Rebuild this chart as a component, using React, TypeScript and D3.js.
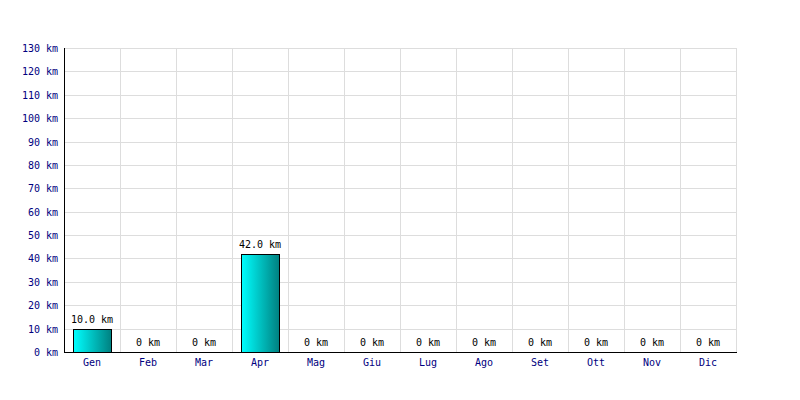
import React, { useEffect, useRef } from "react";
import * as d3 from "d3";

const months = ["Gen", "Feb", "Mar", "Apr", "Mag", "Giu", "Lug", "Ago", "Set", "Ott", "Nov", "Dic"];
const distances = [10, 0, 0, 42, 0, 0, 0, 0, 0, 0, 0, 0];
const yTicks = d3.range(0, 140, 10);

const App: React.FC = () => {
  const svgRef = useRef<SVGSVGElement>(null);

  useEffect(() => {
    if (!svgRef.current) return;
    d3.select(svgRef.current).selectAll("*").remove();

    const margin = { top: 48, right: 64, bottom: 48, left: 64 };
    const width = 800 - margin.left - margin.right;
    const height = 400 - margin.top - margin.bottom;
    const font = "'DejaVu Sans Mono', monospace";

    const root = d3.select(svgRef.current);

    const defs = root.append("defs");
    const grad = defs
      .append("linearGradient")
      .attr("id", "barGrad")
      .attr("x1", "0%")
      .attr("x2", "100%")
      .attr("y1", "0%")
      .attr("y2", "0%");
    grad.append("stop").attr("offset", "0%").attr("stop-color", "#00ffff");
    grad.append("stop").attr("offset", "100%").attr("stop-color", "#008080");

    const svg = root.append("g").attr("transform", `translate(${margin.left},${margin.top})`);

    const x = d3.scaleBand().domain(months).range([0, width]).paddingInner(0).paddingOuter(0);
    const y = d3.scaleLinear().domain([0, 130]).range([height, 0]);

    // Horizontal grid
    svg
      .selectAll("line.hgrid")
      .data(yTicks)
      .enter()
      .append("line")
      .attr("x1", 0)
      .attr("x2", width)
      .attr("y1", (d) => Math.round(y(d)) + 0.5)
      .attr("y2", (d) => Math.round(y(d)) + 0.5)
      .attr("stroke", "#dddddd");

    // Vertical grid
    const bounds = months.map((m) => x(m) || 0).concat([width]);
    svg
      .selectAll("line.vgrid")
      .data(bounds)
      .enter()
      .append("line")
      .attr("x1", (d) => Math.round(d) + 0.5)
      .attr("x2", (d) => Math.round(d) + 0.5)
      .attr("y1", 0)
      .attr("y2", height)
      .attr("stroke", "#dddddd");

    // Bars
    const barW = 38;
    svg
      .selectAll("rect.bar")
      .data(distances.map((v, i) => ({ m: months[i], v })).filter((d) => d.v > 0))
      .enter()
      .append("rect")
      .attr("x", (d) => Math.round((x(d.m) || 0) + x.bandwidth() / 2 - barW / 2) + 0.5)
      .attr("y", (d) => Math.round(y(d.v)) + 0.5)
      .attr("width", barW)
      .attr("height", (d) => height - Math.round(y(d.v)))
      .attr("fill", "url(#barGrad)")
      .attr("stroke", "#000")
      .attr("stroke-width", 1);

    // Value labels
    svg
      .selectAll("text.val")
      .data(distances.map((v, i) => ({ m: months[i], v })))
      .enter()
      .append("text")
      .attr("x", (d) => (x(d.m) || 0) + x.bandwidth() / 2)
      .attr("y", (d) => y(d.v) - 6)
      .attr("text-anchor", "middle")
      .style("font-family", font)
      .style("font-size", "10px")
      .attr("fill", "#000")
      .text((d) => (d.v > 0 ? `${d.v.toFixed(1)} km` : "0 km"));

    // Axes lines
    svg
      .append("line")
      .attr("x1", 0.5)
      .attr("x2", 0.5)
      .attr("y1", 0)
      .attr("y2", height + 0.5)
      .attr("stroke", "#000");
    svg
      .append("line")
      .attr("x1", 0)
      .attr("x2", width + 1)
      .attr("y1", height + 0.5)
      .attr("y2", height + 0.5)
      .attr("stroke", "#000");

    // Y tick labels
    svg
      .selectAll("text.ytick")
      .data(yTicks)
      .enter()
      .append("text")
      .attr("x", -6)
      .attr("y", (d) => y(d) + 4)
      .attr("text-anchor", "end")
      .style("font-family", font)
      .style("font-size", "10px")
      .attr("fill", "#000080")
      .text((d) => `${d} km`);

    // X tick labels
    svg
      .selectAll("text.xtick")
      .data(months)
      .enter()
      .append("text")
      .attr("x", (d) => (x(d) || 0) + x.bandwidth() / 2)
      .attr("y", height + 14)
      .attr("text-anchor", "middle")
      .style("font-family", font)
      .style("font-size", "10px")
      .attr("fill", "#000080")
      .text((d) => d);
  }, []);

  return (
    <svg
      ref={svgRef}
      width={800}
      height={400}
      style={{ position: "absolute", left: 0, top: 0, background: "#fff" }}
    ></svg>
  );
};

export default App;
